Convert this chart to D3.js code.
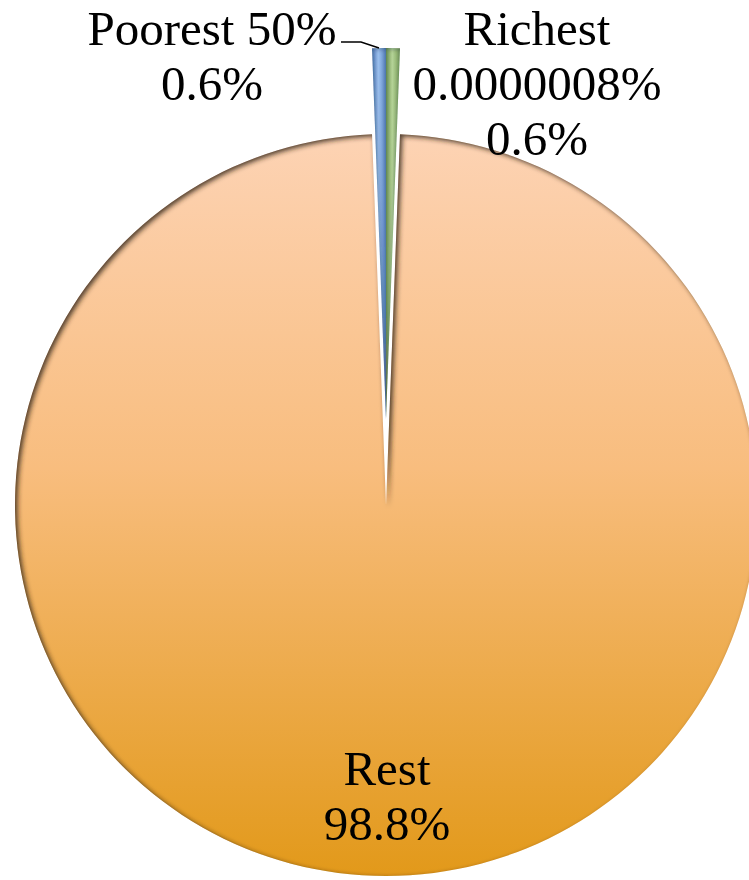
<!DOCTYPE html>
<html>
<head>
<meta charset="utf-8">
<script src="https://cdn.jsdelivr.net/npm/d3@7"></script>
<style>
html,body{margin:0;padding:0;background:#fff;}
svg{display:block;}
text{font-family:"Liberation Serif","Times New Roman",serif;font-size:49px;fill:#000;}
</style>
</head>
<body>
<svg id="chart" width="749" height="880"></svg>
<script>
// Data
const categories = ["Poorest 50%", "Richest 0.0000008%", "Rest"];
const values = [0.6, 0.6, 98.8];
const labelLines = [["Poorest 50%", "0.6%"], ["Richest", "0.0000008%", "0.6%"], ["Rest", "98.8%"]];

const W = 749, H = 880;
const cx = 386, cy = 505, R = 371;
const explode = 86;

const svg = d3.select("#chart");
const defs = svg.append("defs");

// gradients (in slice-local coordinates, origin = pie centre)
const gRest = defs.append("linearGradient").attr("id", "gRest")
  .attr("gradientUnits", "userSpaceOnUse").attr("x1", 0).attr("y1", -R).attr("x2", 0).attr("y2", R);
[["0%", "#FDD3B4"], ["45%", "#F8BD7E"], ["100%", "#E2991A"]].forEach(s => gRest.append("stop").attr("offset", s[0]).attr("stop-color", s[1]));

function hGrad(id, edge, mid) {
  const g = defs.append("linearGradient").attr("id", id).attr("x1", 0).attr("y1", 0).attr("x2", 1).attr("y2", 0);
  [["0%", edge], ["45%", mid], ["100%", edge]].forEach(s => g.append("stop").attr("offset", s[0]).attr("stop-color", s[1]));
}
hGrad("gBlue", "#5B87C6", "#9CC0EE");
hGrad("gGreen", "#7FA55C", "#B4D397");

const blur = defs.append("filter").attr("id", "blur").attr("x", "-20%").attr("y", "-20%").attr("width", "140%").attr("height", "140%");
blur.append("feGaussianBlur").attr("stdDeviation", 2.5);

const fills = ["url(#gBlue)", "url(#gGreen)", "url(#gRest)"];

const total = d3.sum(values);
const start = -values[0] / total * 2 * Math.PI;
const pie = d3.pie().sort(null).value(d => d.v).startAngle(start).endAngle(start + 2 * Math.PI);
const data = categories.map((c, i) => ({ c, v: values[i], i }));
const arcs = pie(data);
const arc = d3.arc().innerRadius(0).outerRadius(R);

const g = svg.append("g").attr("transform", `translate(${cx},${cy})`);
const big = `M${-2000},${-2000}H2000V2000H-2000Z`;

arcs.forEach((a, k) => {
  const small = a.data.v < 5;
  const off = small ? -explode : 0;
  const sg = g.append("g").attr("transform", `translate(0,${off})`);
  const clipId = "clip" + k;
  defs.append("clipPath").attr("id", clipId).attr("clipPathUnits", "userSpaceOnUse")
    .append("path").attr("d", arc(a));
  sg.append("path").attr("d", arc(a)).attr("fill", fills[a.data.i]);
  // inner shadow (light from upper-left -> dark band on upper-left edges)
  const sh = sg.append("g").attr("clip-path", `url(#${clipId})`);
  sh.append("path").attr("d", big + arc(a))
    .attr("fill-rule", "evenodd")
    .attr("fill", small ? "rgba(20,30,50,0.45)" : "rgba(50,35,20,0.85)")
    .attr("transform", small ? "translate(0.5,0.5)" : "translate(2.5,2)")
    .attr("filter", "url(#blur)");
});

// labels
const lh = 55;
const labelPos = [
  { x: 212, y: 45, anchor: "middle" },
  { x: 537, y: 45, anchor: "middle" },
  { x: 387, y: 785, anchor: "middle" }
];
labelLines.forEach((lines, i) => {
  const t = svg.append("text").attr("text-anchor", labelPos[i].anchor);
  lines.forEach((ln, j) => t.append("tspan").attr("x", labelPos[i].x).attr("y", labelPos[i].y + j * lh).text(ln));
});

// leader line for Poorest 50%
svg.append("path")
  .attr("d", d3.line()([[341, 42], [361, 42], [379, 48]]))
  .attr("fill", "none").attr("stroke", "#000").attr("stroke-width", 1.5);
</script>
</body>
</html>
